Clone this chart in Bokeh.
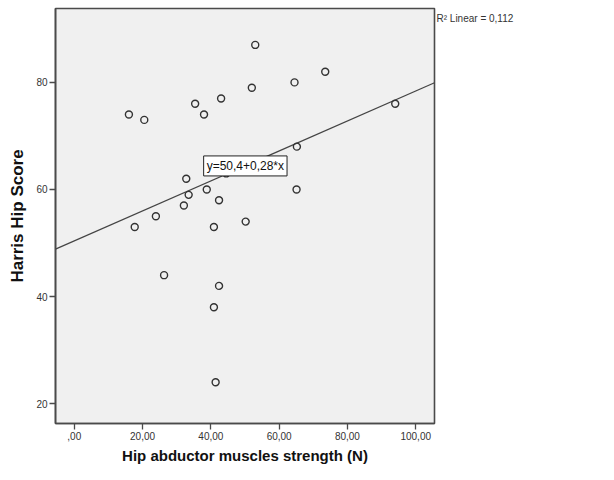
from bokeh.plotting import figure
from bokeh.models import Range1d, FixedTicker, Label, LinearAxis
from bokeh.embed import file_html
from bokeh.resources import INLINE

# data
strength = [16, 20.5, 35.4, 38, 43, 53, 52, 64.5, 73.5, 94, 65.2, 44.5,
            32.8, 33.5, 38.8, 32.1, 42.4, 23.9, 17.7, 40.9, 50.2, 65.1,
            26.3, 42.4, 40.9, 41.4]
harris = [74, 73, 76, 74, 77, 87, 79, 80, 82, 76, 68, 63,
          62, 59, 60, 57, 58, 55, 53, 53, 54, 60,
          44, 42, 38, 24]
intercept = 50.4
slope = 0.28
r2_text = "R² Linear = 0,112"
eq_text = "y=50,4+0,28*x"
x_ticks = [0, 20, 40, 60, 80, 100]
x_tick_labels = [",00", "20,00", "40,00", "60,00", "80,00", "100,00"]
y_ticks = [20, 40, 60, 80]
y_tick_labels = ["20", "40", "60", "80"]

X0, X1 = -5.5, 105.5
Y0, Y1 = 16.3, 93.8

p = figure(width=598, height=464, output_backend="svg", toolbar_location=None,
           x_range=Range1d(X0, X1), y_range=Range1d(Y0, Y1),
           min_border_left=55, min_border_right=164, min_border_top=8,
           min_border_bottom=41, frame_width=379, frame_height=415)
p.background_fill_color = "#f0f0f0"
p.border_fill_color = "white"
p.outline_line_color = "#4a4a4a"
p.outline_line_width = 1.6
p.xgrid.visible = False
p.ygrid.visible = False

p.xaxis.ticker = FixedTicker(ticks=x_ticks)
p.yaxis.ticker = FixedTicker(ticks=y_ticks)
p.xaxis.major_label_overrides = dict(zip(x_ticks, x_tick_labels))
p.yaxis.major_label_overrides = dict(zip(y_ticks, y_tick_labels))
for ax in (p.xaxis, p.yaxis):
    ax.minor_tick_line_color = None
    ax.major_tick_in = 0
    ax.major_tick_out = 6
    ax.major_tick_line_color = "#4a4a4a"
    ax.major_tick_line_width = 1.3
    ax.axis_line_color = "#4a4a4a"
    ax.axis_line_width = 1.6
    ax.major_label_text_font = "Liberation Sans"
    ax.major_label_text_font_size = "10px"
    ax.major_label_text_color = "#333333"
    ax.major_label_standoff = 2

p.xaxis.axis_label = "Hip abductor muscles strength (N)"
p.xaxis.axis_label_text_font = "Liberation Sans"
p.xaxis.axis_label_text_font_size = "15px"
p.xaxis.axis_label_text_font_style = "bold"
p.xaxis.axis_label_text_color = "#111111"
p.xaxis.axis_label_standoff = 4

p.yaxis.axis_label = "Harris Hip Score"
p.yaxis.axis_label_text_font = "Liberation Sans"
p.yaxis.axis_label_text_font_size = "17px"
p.yaxis.axis_label_text_font_style = "bold"
p.yaxis.axis_label_text_color = "#111111"
p.yaxis.axis_label_standoff = 6

# R² note placed in the right-hand margin, next to the top of the frame
r2_y = 92
r_axis = LinearAxis(ticker=FixedTicker(ticks=[r2_y]),
                    major_label_overrides={r2_y: r2_text},
                    major_tick_line_color=None, minor_tick_line_color=None,
                    axis_line_color=None, major_tick_out=0, major_tick_in=0,
                    major_label_standoff=2,
                    major_label_text_font="Liberation Sans",
                    major_label_text_font_size="10px",
                    major_label_text_color="#333333")
p.add_layout(r_axis, "right")

# fit line across the whole x range
line_x = [X0, X1]
line_y = [intercept + slope * v for v in line_x]
p.line(line_x, line_y, line_color="#444444", line_width=1.2)

p.scatter(strength, harris, marker="circle", size=7, fill_color=None,
          line_color="#333333", line_width=1.4)

p.add_layout(Label(x=50.1, y=64.4, text=eq_text, text_font="Liberation Sans",
                   text_font_size="12px", text_align="center",
                   text_baseline="middle", text_color="#111111",
                   background_fill_color="white", border_line_color="#222222",
                   border_line_width=1, padding=3))

open("out.html", "w").write(file_html(p, INLINE))
